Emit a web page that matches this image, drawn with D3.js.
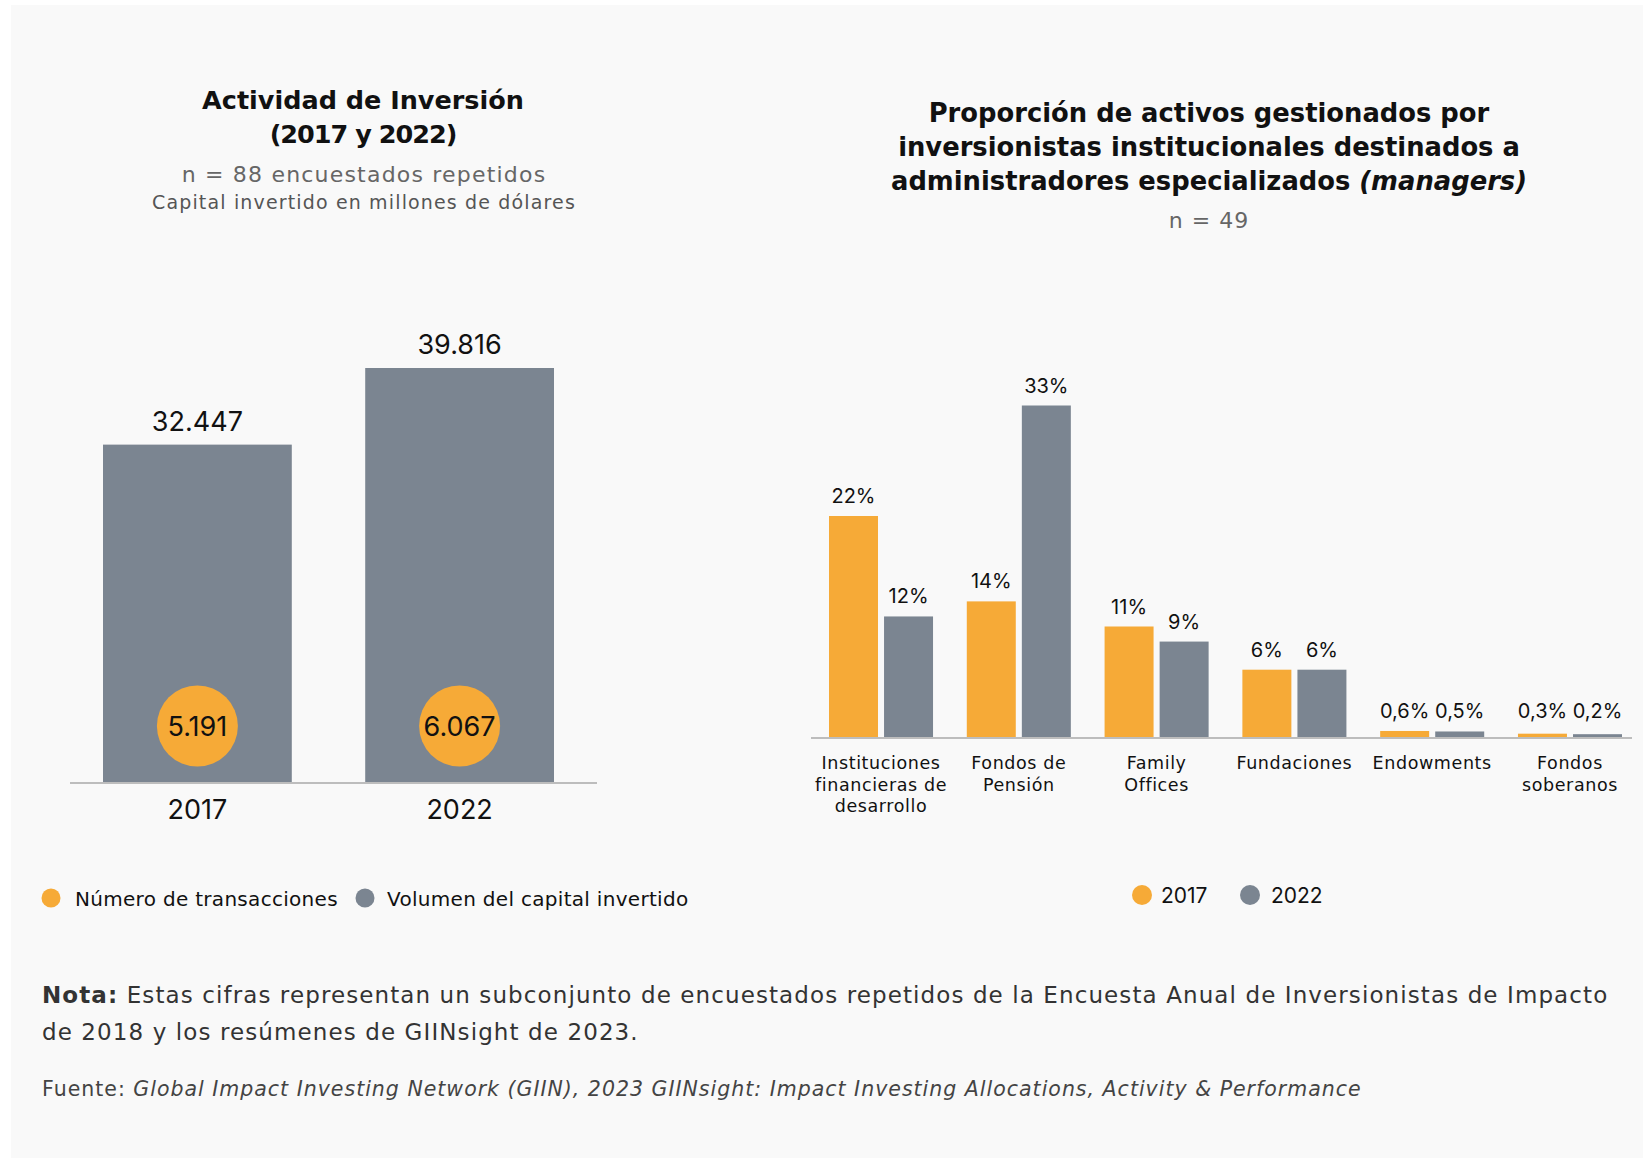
<!DOCTYPE html>
<html>
<head>
<meta charset="utf-8">
<script src="https://cdn.jsdelivr.net/npm/d3@7"></script>
<style>
  html, body { margin: 0; padding: 0; background: #ffffff; }
  svg { display: block; font-family: "DejaVu Sans", "Noto Sans", sans-serif; }
  .num { font-family: "Inter", "Noto Sans", sans-serif; }
</style>
</head>
<body>
<svg id="chart" width="1651" height="1161"></svg>
<script>
// ---------- DATA ----------
const leftYears = ["2017", "2022"];
const capitalVolume = [32447, 39816];     // millones de dólares
const transactions = [5191, 6067];

const rightCategories = [
  "Instituciones financieras de desarrollo",
  "Fondos de Pensión",
  "Family Offices",
  "Fundaciones",
  "Endowments",
  "Fondos soberanos"
];
const categoryLines = [
  ["Instituciones", "financieras de", "desarrollo"],
  ["Fondos de", "Pensión"],
  ["Family", "Offices"],
  ["Fundaciones"],
  ["Endowments"],
  ["Fondos", "soberanos"]
];
const seriesYears = ["2017", "2022"];
const share2017 = [22.0, 13.5, 11.0, 6.7, 0.6, 0.33];
const share2022 = [12.0, 33.0, 9.5, 6.7, 0.55, 0.28];
const labels2017 = ["22%", "14%", "11%", "6%", "0,6%", "0,3%"];
const labels2022 = ["12%", "33%", "9%", "6%", "0,5%", "0,2%"];

// ---------- STYLE ----------
const ORANGE = "#F6AA37";
const GRAY = "#7B8591";
const AXIS = "#BDBDBD";

const svg = d3.select("#chart");
svg.append("rect").attr("x", 11).attr("y", 5).attr("width", 1632).attr("height", 1153).attr("fill", "#F9F9F9");

const esLocale = d3.formatLocale({ decimal: ",", thousands: ".", grouping: [3], currency: ["", "$"] });
const fmt = esLocale.format(",");

// ---------- LEFT CHART ----------
const L = svg.append("g");
const lx = d3.scaleBand().domain(leftYears).range([103, 554]).paddingInner(0.28).paddingOuter(0);
const ly = d3.scaleLinear().domain([0, 39816]).range([782, 368]);

const leftData = leftYears.map((y, i) => ({ year: y, vol: capitalVolume[i], tx: transactions[i] }));

L.selectAll("rect.bar").data(leftData).join("rect")
  .attr("class", "bar")
  .attr("x", d => lx(d.year)).attr("width", lx.bandwidth())
  .attr("y", d => ly(d.vol)).attr("height", d => ly(0) - ly(d.vol))
  .attr("fill", GRAY);

L.selectAll("text.vlab").data(leftData).join("text")
  .attr("class", "vlab num")
  .attr("x", d => lx(d.year) + lx.bandwidth() / 2)
  .attr("y", d => ly(d.vol) - 14)
  .attr("text-anchor", "middle").attr("font-size", 27).attr("fill", "#111")
  .text(d => fmt(d.vol));

L.selectAll("circle.tx").data(leftData).join("circle")
  .attr("class", "tx")
  .attr("cx", d => lx(d.year) + lx.bandwidth() / 2).attr("cy", 726).attr("r", 40.5)
  .attr("fill", ORANGE);

L.selectAll("text.txlab").data(leftData).join("text")
  .attr("class", "txlab num")
  .attr("x", d => lx(d.year) + lx.bandwidth() / 2).attr("y", 726)
  .attr("dy", "0.36em")
  .attr("text-anchor", "middle").attr("font-size", 27).attr("fill", "#111")
  .text(d => fmt(d.tx));

L.append("line").attr("x1", 70).attr("x2", 597).attr("y1", 783).attr("y2", 783)
  .attr("stroke", AXIS).attr("stroke-width", 2);

const lAxis = L.append("g").attr("transform", "translate(0,783)")
  .call(d3.axisBottom(lx).tickSize(0).tickPadding(17));
lAxis.select(".domain").remove();
lAxis.selectAll("text").attr("class", "num").attr("font-size", 27).attr("fill", "#111")
  .attr("font-family", "Inter, 'Noto Sans', sans-serif");

// Left titles
const lt = svg.append("g").attr("text-anchor", "middle");
lt.append("text").attr("x", 363).attr("y", 109).attr("font-size", 25.5).attr("font-weight", 700).attr("fill", "#111").text("Actividad de Inversión");
lt.append("text").attr("x", 363).attr("y", 143).attr("font-size", 25.5).attr("font-weight", 700).attr("letter-spacing", -1).attr("fill", "#111").text("(2017 y 2022)");
lt.append("text").attr("x", 364).attr("y", 182).attr("font-size", 22).attr("fill", "#666").attr("letter-spacing", 1.2).text("n = 88 encuestados repetidos");
lt.append("text").attr("x", 364).attr("y", 209).attr("font-size", 19).attr("fill", "#555").attr("letter-spacing", 1.15).text("Capital invertido en millones de dólares");

// Left legend
const leftLegend = [{ label: "Número de transacciones", color: ORANGE, cx: 51, tx: 75 },
                    { label: "Volumen del capital invertido", color: GRAY, cx: 365, tx: 387 }];
const llg = svg.append("g");
llg.selectAll("circle").data(leftLegend).join("circle")
  .attr("cx", d => d.cx).attr("cy", 898).attr("r", 9.5).attr("fill", d => d.color);
llg.selectAll("text").data(leftLegend).join("text")
  .attr("x", d => d.tx).attr("y", 906).attr("font-size", 20).attr("letter-spacing", 0.3).attr("fill", "#111").text(d => d.label);

// ---------- RIGHT CHART ----------
const R = svg.append("g");
const x0 = d3.scaleBand().domain(rightCategories).range([829, 1622]).paddingInner(0.245).paddingOuter(0);
const x1 = d3.scaleBand().domain(seriesYears).range([0, x0.bandwidth()]).paddingInner(0.11).paddingOuter(0);
const ry = d3.scaleLinear().domain([0, 33]).range([737, 405.5]);
const color = d3.scaleOrdinal().domain(seriesYears).range([ORANGE, GRAY]);

const rightData = rightCategories.map((c, i) => ({
  cat: c,
  vals: [
    { year: "2017", v: share2017[i], label: labels2017[i] },
    { year: "2022", v: share2022[i], label: labels2022[i] }
  ]
}));

const grp = R.selectAll("g.grp").data(rightData).join("g")
  .attr("class", "grp")
  .attr("transform", d => `translate(${x0(d.cat)},0)`);

grp.selectAll("rect").data(d => d.vals).join("rect")
  .attr("x", d => x1(d.year)).attr("width", x1.bandwidth())
  .attr("y", d => ry(d.v)).attr("height", d => ry(0) - ry(d.v))
  .attr("fill", d => color(d.year));

grp.selectAll("text.pl").data(d => d.vals).join("text")
  .attr("class", "pl num")
  .attr("x", d => x1(d.year) + x1.bandwidth() / 2)
  .attr("y", d => Math.min(ry(d.v) - 13, 718))
  .attr("text-anchor", "middle").attr("font-size", 20).attr("fill", "#111")
  .text(d => d.label);

R.append("line").attr("x1", 811).attr("x2", 1632).attr("y1", 738).attr("y2", 738)
  .attr("stroke", AXIS).attr("stroke-width", 2);

const catText = R.selectAll("text.cat").data(rightCategories).join("text")
  .attr("class", "cat")
  .attr("text-anchor", "middle").attr("font-size", 17.5).attr("letter-spacing", 0.6).attr("fill", "#111")
  .attr("x", d => x0(d) + x0.bandwidth() / 2)
  .attr("y", 769);
catText.selectAll("tspan").data((d, i) => categoryLines[i]).join("tspan")
  .attr("x", function () { return d3.select(this.parentNode).attr("x"); })
  .attr("dy", (d, i) => i === 0 ? 0 : 21.5)
  .text(d => d);

// Right titles
const rt = svg.append("g").attr("text-anchor", "middle").attr("fill", "#111");
rt.append("text").attr("x", 1209).attr("y", 122).attr("font-size", 25.8).attr("font-weight", 700).text("Proporción de activos gestionados por");
rt.append("text").attr("x", 1209).attr("y", 156).attr("font-size", 25.8).attr("font-weight", 700).text("inversionistas institucionales destinados a");
const t3 = rt.append("text").attr("x", 1209).attr("y", 190).attr("font-size", 25.8).attr("font-weight", 700);
t3.append("tspan").text("administradores especializados ");
t3.append("tspan").attr("font-style", "italic").text("(managers)");
rt.append("text").attr("x", 1209).attr("y", 228).attr("font-size", 22).attr("font-weight", 400).attr("fill", "#666").attr("letter-spacing", 1).text("n = 49");

// Right legend
const rightLegend = [{ label: "2017", color: ORANGE, cx: 1142, tx: 1161 },
                     { label: "2022", color: GRAY, cx: 1250, tx: 1271 }];
const rlg = svg.append("g");
rlg.selectAll("circle").data(rightLegend).join("circle")
  .attr("cx", d => d.cx).attr("cy", 895).attr("r", 10).attr("fill", d => d.color);
rlg.selectAll("text").data(rightLegend).join("text")
  .attr("class", "num")
  .attr("x", d => d.tx).attr("y", 903).attr("font-size", 21).attr("fill", "#111").text(d => d.label);

// ---------- FOOTER ----------
const f = svg.append("g");
const n1 = f.append("text").attr("x", 42).attr("y", 1003).attr("font-size", 23).attr("fill", "#333").attr("letter-spacing", 1.1);
n1.append("tspan").attr("font-weight", 700).text("Nota:");
n1.append("tspan").text(" Estas cifras representan un subconjunto de encuestados repetidos de la Encuesta Anual de Inversionistas de Impacto");
f.append("text").attr("x", 42).attr("y", 1040).attr("font-size", 23).attr("fill", "#333").attr("letter-spacing", 1.1)
  .text("de 2018 y los resúmenes de GIINsight de 2023.");
const fu = f.append("text").attr("x", 42).attr("y", 1096).attr("font-size", 20.5).attr("fill", "#444").attr("letter-spacing", 1.0);
fu.append("tspan").text("Fuente: ");
fu.append("tspan").attr("font-style", "italic").text("Global Impact Investing Network (GIIN), 2023 GIINsight: Impact Investing Allocations, Activity & Performance");
</script>
</body>
</html>
